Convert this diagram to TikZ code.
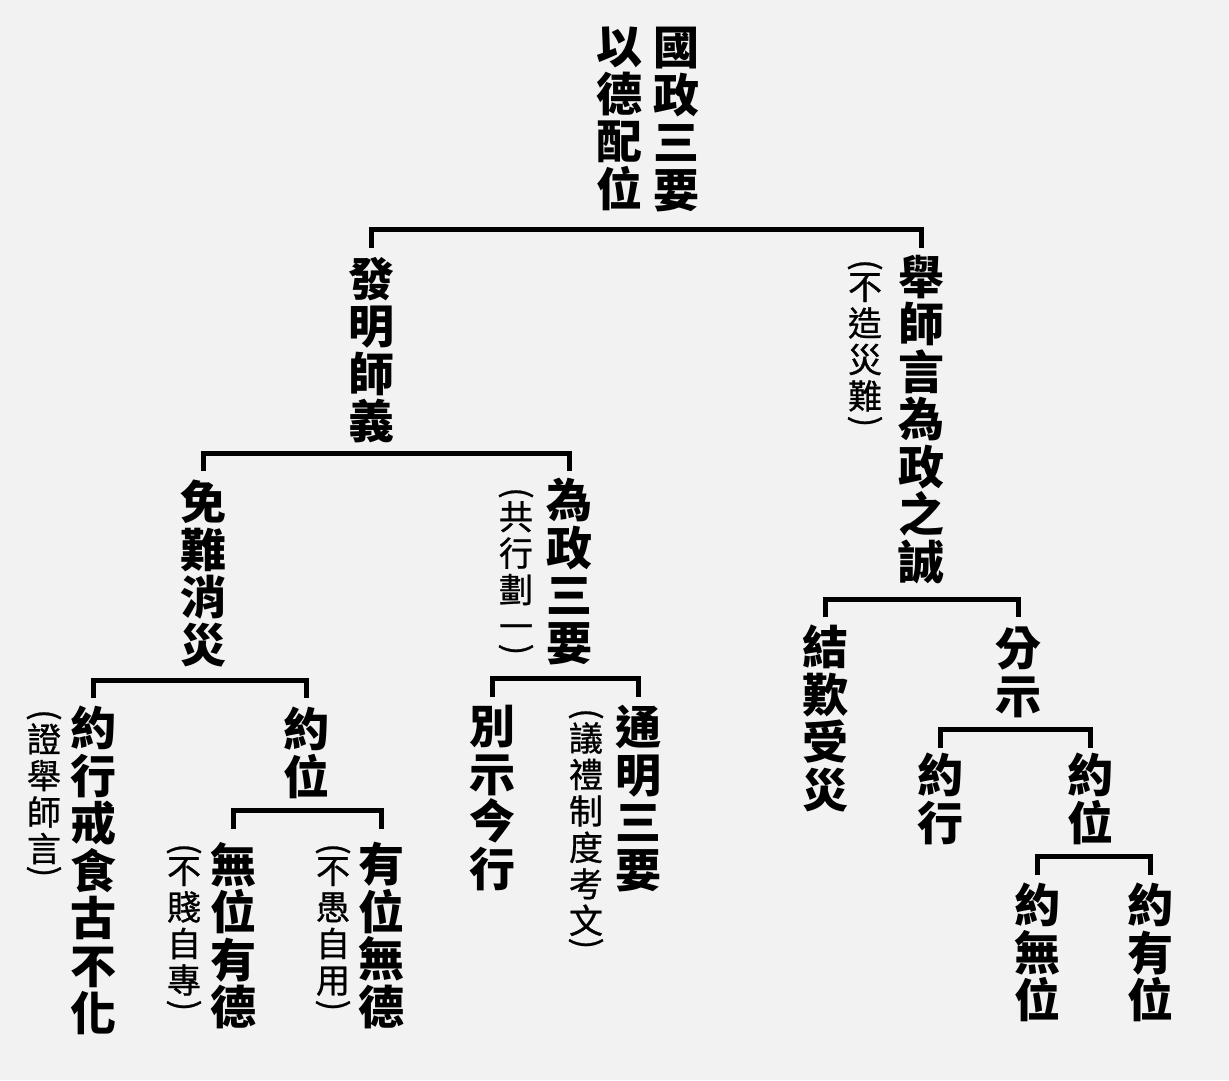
\documentclass[tikz,border=0pt]{standalone}
\usepackage{fontspec}
\newfontfamily\cjk{Noto Sans CJK TC}
\newfontfamily\cjka{Noto Sans CJK TC}[FakeBold=0.8]
\definecolor{bgc}{HTML}{F2F2F2}
\tikzset{
 mtxt/.style={font=\cjk\bfseries\fontsize{46}{47.5}\selectfont, align=center, inner sep=0pt, anchor=north, text=black},
 atxt/.style={font=\cjka\fontsize{34}{36.5}\selectfont, align=center, inner sep=0pt, anchor=north, text=black},
 vparen/.style={font=\cjka\fontsize{34}{36.5}\selectfont, inner sep=0pt, rotate=-90, anchor=center, text=black},
 br/.style={line width=5pt, line join=miter}
}
\newcommand\annot[5]{%
 \node[atxt] (#1) at (#2,#3) {#5};
 \node[vparen] (#1l) at ([yshift=8pt]#1.north) {(};
 \node[vparen] (#1r) at ([yshift={-((#4)-1)*36.5-31-8}]#1.north) {)};
}
\newcommand\brk[5]{%
 \coordinate (#1) at ([yshift=-#3pt]#2.south);
 \draw[br] ([yshift=-18pt]#4.north |- #1) |- (#1) -| ([yshift=-18pt]#5.north |- #1);
}
\begin{document}
\begin{tikzpicture}[x=1pt,y=-1pt]
\fill[bgc] (0,0) rectangle (1229,1080);
\useasboundingbox (0,0) rectangle (1229,1080);
% root
\node[mtxt] (r1) at (676,27) {國\\政\\三\\要};
\node[mtxt] (r2) at (619,27) {以\\德\\配\\位};
% level 1
\node[mtxt] (n1) at (371,257) {發\\明\\師\\義};
\node[mtxt] (n2) at (921,255) {舉\\師\\言\\為\\政\\之\\誠};
\annot{a2}{865}{273}{4}{不\\造\\災\\難}
% level 2 left
\node[mtxt] (n11) at (203,480) {免\\難\\消\\災};
\node[mtxt] (n12) at (569,478) {為\\政\\三\\要};
\annot{a12}{516}{501}{4}{共\\行\\劃\\一}
% level 3
\node[mtxt] (n111) at (93,706) {約\\行\\戒\\食\\古\\不\\化};
\annot{a111}{44}{723}{4}{證\\舉\\師\\言}
\node[mtxt] (n112) at (306,707) {約\\位};
\node[mtxt] (n1121) at (233,842) {無\\位\\有\\德};
\annot{a1121}{184}{857}{4}{不\\賤\\自\\專}
\node[mtxt] (n1122) at (381,842) {有\\位\\無\\德};
\annot{a1122}{333}{857}{4}{不\\愚\\自\\用}
\node[mtxt] (n121) at (492,705) {別\\示\\今\\行};
\node[mtxt] (n122) at (638,705) {通\\明\\三\\要};
\annot{a122}{586}{722}{6}{議\\禮\\制\\度\\考\\文}
% right subtree
\node[mtxt] (n21) at (825,625) {結\\歎\\受\\災};
\node[mtxt] (n22) at (1018,627) {分\\示};
\node[mtxt] (n221) at (940,753) {約\\行};
\node[mtxt] (n222) at (1090,753) {約\\位};
\node[mtxt] (n2221) at (1037,883) {約\\無\\位};
\node[mtxt] (n2222) at (1150,883) {約\\有\\位};
% brackets
\brk{b0}{r1}{18}{n1}{n2}
\brk{b1}{n1}{10}{n11}{n12}
\brk{b2}{n2}{15}{n21}{n22}
\brk{b11}{n11}{13}{n111}{n112}
\brk{b12}{n12}{14}{n121}{n122}
\brk{b112}{n112}{12}{n1121}{n1122}
\brk{b22}{n22}{12}{n221}{n222}
\brk{b222}{n222}{12}{n2221}{n2222}
\end{tikzpicture}
\end{document}
